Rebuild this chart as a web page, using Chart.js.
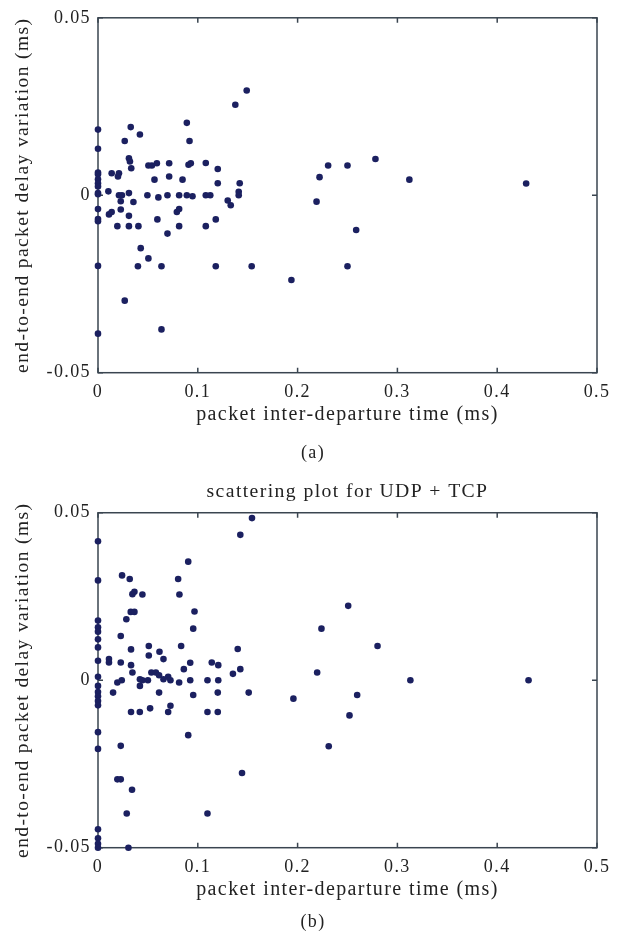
<!DOCTYPE html>
<html>
<head>
<meta charset="utf-8">
<script src="https://cdn.jsdelivr.net/npm/chart.js@4.4.1/dist/chart.umd.min.js"></script>
<style>
  body { margin: 0; background: #fff; width: 623px; height: 941px; overflow: hidden; }
  canvas { position: absolute; left: 0; }
  #chartA { top: 0; }
  #chartB { top: 470px; }
</style>
</head>
<body>
<canvas id="chartA" width="623" height="470"></canvas>
<canvas id="chartB" width="623" height="471"></canvas>
<script>
// Tick values shared by both plots
const xTicks = [0, 0.1, 0.2, 0.3, 0.4, 0.5];
const yTicks = [-0.05, 0, 0.05];

// (a) packet inter-departure time vs delay variation
const aX = [0, 0, 0, 0, 0, 0, 0, 0, 0, 0, 0, 0, 0, 0,
  0.0104, 0.0137, 0.021, 0.020, 0.021, 0.024, 0.0228, 0.0228, 0.011, 0.0137,
  0.0194, 0.0268, 0.0268, 0.031, 0.031, 0.031, 0.0328, 0.031, 0.032, 0.0333,
  0.0355, 0.0405, 0.042, 0.0428, 0.040, 0.0495, 0.0505, 0.054, 0.0505, 0.0566,
  0.059, 0.0605, 0.0595, 0.0636, 0.0636, 0.0696, 0.0696, 0.0713, 0.0713, 0.079,
  0.0813, 0.0813, 0.0813, 0.0847, 0.089, 0.0917, 0.0907, 0.093, 0.089, 0.0947,
  0.108, 0.108, 0.1125, 0.108, 0.118, 0.118, 0.12, 0.12, 0.13, 0.133,
  0.1376, 0.149, 0.141, 0.141, 0.142, 0.154, 0.1938, 0.219, 0.222, 0.2306,
  0.25, 0.25, 0.2587, 0.278, 0.312, 0.429];
const aY = [0.0185, 0.0131, 0.0064, 0.0059, 0.0045, 0.0034, 0.0025, 0.0006, 0.0003, -0.0039, -0.0067, -0.0073, -0.0199, -0.039,
  0.0011, 0.0062, 0.0062, 0.0053, 0, 0, -0.0017, -0.004, -0.0054, -0.0047,
  -0.0087, 0.0153, -0.0297, 0.0006, -0.0058, -0.0087, 0.0192, 0.0104, 0.0095, 0.0076,
  -0.0019, -0.0087, 0.0171, -0.0149, -0.02, 0, 0.0084, 0.0084, -0.0178, 0.0044,
  0.009, -0.0006, -0.0068, -0.02, -0.0378, 0, -0.0108, 0.009, 0.0053, -0.0047,
  -0.0039, 0, -0.0087, 0.0044, 0.0204, 0.0153, 0.0086, 0.009, 0, -0.0003,
  0.0091, 0, 0, -0.0087, -0.0068, -0.02, 0.0074, 0.0034, -0.0015, -0.0028,
  0.0255, 0.0295, 0.001, 0, 0.0034, -0.02, -0.0239, -0.0018, 0.0051, 0.0084,
  0.0084, -0.02, -0.0098, 0.0102, 0.0044, 0.0033];

// (b) same measurement for UDP + TCP traffic
const bX = [0, 0, 0, 0, 0, 0, 0, 0, 0, 0, 0, 0, 0, 0, 0, 0, 0, 0, 0, 0,
  0.011, 0.011, 0.0151, 0.0194, 0.0238, 0.0228, 0.0228, 0.0228, 0.0194, 0.0228,
  0.0241, 0.0284, 0.0288, 0.0305, 0.0318, 0.0328, 0.0365, 0.0345, 0.0365, 0.0331,
  0.0331, 0.0345, 0.0331, 0.0341, 0.042, 0.042, 0.0419, 0.0445, 0.0445, 0.05,
  0.0509, 0.0509, 0.0522, 0.0535, 0.058, 0.0612, 0.0612, 0.0616, 0.0656, 0.0656,
  0.0703, 0.0726, 0.0703, 0.0726, 0.0803, 0.0816, 0.0813, 0.0833, 0.086, 0.0904,
  0.0904, 0.0924, 0.0924, 0.0954, 0.0967, 0.0954, 0.1097, 0.1097, 0.1097, 0.114,
  0.1205, 0.1205, 0.12, 0.12, 0.1352, 0.14, 0.1426, 0.1426, 0.1443, 0.151,
  0.1543, 0.1958, 0.2196, 0.2239, 0.2312, 0.2507, 0.252, 0.2597, 0.2801, 0.313,
  0.4314];
const bY = [0.0415, 0.0298, 0.0178, 0.0158, 0.0145, 0.0122, 0.0098, 0.0058, 0.001, -0.0017,
  -0.0035, -0.0048, -0.0062, -0.0075, -0.0155, -0.0205, -0.0445, -0.0472, -0.0488, -0.05,
  0.0063, 0.0053, -0.0037, -0.0007, 0, 0.0053, 0.0132, -0.0196, -0.0296, -0.0296,
  0.0313, 0.0182, -0.0398, -0.05, 0.0302, 0.0204, 0.0204, 0.0257, 0.0264, 0.0092,
  0.0045, 0.0023, -0.0095, -0.0327, 0.0003, -0.0017, -0.0095, 0.0256, 0, 0,
  0.0102, 0.0074, -0.0084, 0.0023, 0.0023, 0.0015, -0.0037, 0.0085, 0.0063, 0.0003,
  0.001, 0, -0.0095, -0.0076, 0.0302, 0.0256, -0.0007, 0.0102, 0.0033, 0.0354,
  -0.0164, 0.0052, 0, 0.0154, 0.0205, -0.0044, 0, -0.0095, -0.0398, 0.0053,
  0.0045, 0, -0.0037, -0.0095, 0.0019, 0.0093, 0.0033, 0.0434, -0.0277, -0.0037,
  0.0484, -0.0055, 0.0023, 0.0154, -0.0197, 0.0222, -0.0105, -0.0044, 0.0102, 0,
  0];

const serif = 'Liberation Serif';
const textColor = '#222';
const axisColor = '#3a4550';
const dotColor = '#1b2060';

// the original figure has wide-set lettering
const spacingPlugin = {
  id: 'spacing',
  beforeUpdate(chart) { chart.ctx.letterSpacing = '1.4px'; },
  beforeDraw(chart) { chart.ctx.letterSpacing = '1.4px'; }
};

// box around the plot area with short inward ticks (matlab look)
const framePlugin = {
  id: 'frame',
  beforeDatasetsDraw(chart) {
    const { ctx, chartArea: a, scales: { x, y } } = chart;
    ctx.save();
    ctx.strokeStyle = axisColor;
    ctx.lineWidth = 1.5;
    ctx.strokeRect(a.left, a.top, a.right - a.left, a.bottom - a.top);
    ctx.beginPath();
    xTicks.forEach(v => {
      const px = x.getPixelForValue(v);
      ctx.moveTo(px, a.bottom); ctx.lineTo(px, a.bottom - 5);
      ctx.moveTo(px, a.top); ctx.lineTo(px, a.top + 5);
    });
    yTicks.forEach(v => {
      const py = y.getPixelForValue(v);
      ctx.moveTo(a.left, py); ctx.lineTo(a.left + 5, py);
      ctx.moveTo(a.right, py); ctx.lineTo(a.right - 5, py);
    });
    ctx.stroke();
    ctx.restore();
  }
};

function makeChart(id, xs, ys, opts) {
  const ctx = document.getElementById(id).getContext('2d');
  return new Chart(ctx, {
    type: 'scatter',
    data: {
      datasets: [{
        data: xs.map((v, i) => ({ x: v, y: ys[i] })),
        backgroundColor: dotColor,
        borderWidth: 0,
        pointRadius: 3.3,
        clip: false
      }]
    },
    options: {
      responsive: false,
      animation: false,
      events: [],
      // left/right padding kept equal so the caption centres on the page
      layout: { padding: { top: opts.padTop, right: 10, left: 13, bottom: 0 } },
      scales: {
        x: {
          type: 'linear',
          min: 0,
          max: 0.5,
          afterBuildTicks: s => { s.ticks = xTicks.map(v => ({ value: v })); },
          afterFit: s => { s.height = 53.7; },
          grid: { display: false, drawTicks: false },
          border: { display: false },
          ticks: {
            autoSkip: false,
            maxRotation: 0,
            padding: 9,
            color: textColor,
            font: { family: serif, size: 18 },
            callback: v => String(v)
          },
          title: {
            display: true,
            text: 'packet inter-departure time (ms)',
            color: textColor,
            font: { family: serif, size: 20 },
            padding: 0
          }
        },
        y: {
          min: -0.05,
          max: 0.05,
          afterBuildTicks: s => { s.ticks = yTicks.map(v => ({ value: v })); },
          afterFit: s => { s.width = 85; },
          grid: { display: false, drawTicks: false },
          border: { display: false },
          ticks: {
            padding: 7,
            color: textColor,
            font: { family: serif, size: 18 },
            callback: v => String(v)
          },
          title: {
            display: true,
            text: 'end-to-end packet delay variation (ms)',
            color: textColor,
            font: { family: serif, size: 19.5 },
            padding: { top: -2, bottom: 0 }
          }
        },
        // empty right-hand axis, only reserves the gap on the right
        y2: {
          position: 'right',
          min: -0.05,
          max: 0.05,
          afterFit: s => { s.width = 16; },
          grid: { display: false, drawTicks: false },
          border: { display: false },
          ticks: { display: false }
        }
      },
      plugins: {
        legend: { display: false },
        tooltip: { enabled: false },
        title: opts.title,
        subtitle: {
          display: true,
          position: 'bottom',
          text: opts.caption,
          color: textColor,
          font: { family: serif, size: 18, weight: 'normal' },
          padding: opts.captionPad
        }
      }
    },
    plugins: [spacingPlugin, framePlugin]
  });
}

makeChart('chartA', aX, aY, {
  padTop: 15,
  title: { display: false },
  caption: '(a)',
  captionPad: { top: 15.8, bottom: 6.2 }
});

makeChart('chartB', bX, bY, {
  padTop: 0,
  title: {
    display: true,
    fullSize: false,
    text: 'scattering plot for UDP + TCP',
    color: textColor,
    font: { family: serif, size: 19.7, weight: 'normal' },
    padding: { top: 9.9, bottom: 9.2 }
  },
  caption: '(b)',
  captionPad: { top: 10.4, bottom: 7.6 }
});
</script>
</body>
</html>
